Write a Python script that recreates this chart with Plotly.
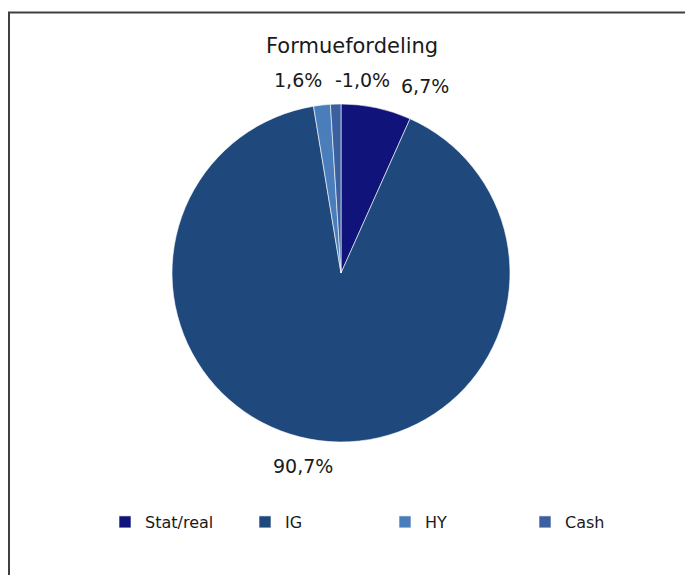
import plotly.graph_objects as go

# Formuefordeling - andeler i prosent
kategorier = ["Stat/real", "IG", "HY", "Cash"]
andeler = [6.7, 90.7, 1.6, -1.0]
farger = ["#10137a", "#1f497d", "#4a7ebb", "#3c5fa0"]

FONT = "DejaVu Sans"
# siden har 8 px marg i nettleseren, så figuren gjøres tilsvarende mindre
OFF = 8
W, H = 693 - OFF, 575 - OFF


def px(x):
    return (x - OFF) / W


def py(y):
    return 1 - (y - OFF) / H


def pct_tekst(v):
    return f"{v:.1f}".replace(".", ",") + "%"


fig = go.Figure()

# Plotly tegner ikke negative sektorer, så størrelsen tas som absoluttverdi
fig.add_trace(go.Pie(
    labels=kategorier,
    values=[abs(v) for v in andeler],
    sort=False,
    direction="clockwise",
    rotation=0,
    marker=dict(colors=farger, line=dict(color="white", width=0.6)),
    textinfo="none",
    hovertext=[pct_tekst(v) for v in andeler],
    hoverinfo="label+text",
    domain=dict(x=[px(341 - 169), px(341 + 169)], y=[py(442), py(104)]),
))

# Dataetiketter plassert som i Excel-utgaven
etikett_pos = [(425, 86), (303, 466), (298, 80), (362, 80)]
for v, (ex, ey) in zip(andeler, etikett_pos):
    fig.add_annotation(
        x=px(ex), y=py(ey), xref="paper", yref="paper",
        xanchor="center", yanchor="middle",
        text=pct_tekst(v), showarrow=False,
        font=dict(family=FONT, size=19, color="#1a1a1a"),
    )

fig.add_annotation(
    x=px(352), y=py(46), xref="paper", yref="paper",
    xanchor="center", yanchor="middle",
    text="Formuefordeling", showarrow=False,
    font=dict(family=FONT, size=21, color="#1a1a1a"),
)

# Ramme rundt diagrammet (åpen mot høyre og nederst)
fig.add_shape(
    type="rect", xref="paper", yref="paper",
    x0=1 / W, x1=1.02, y0=-0.02, y1=py(12.5),
    line=dict(color="#404040", width=2),
)

fig.update_layout(
    width=W, height=H,
    margin=dict(l=0, r=0, t=0, b=0),
    paper_bgcolor="white",
    font=dict(family=FONT, size=16, color="#1a1a1a"),
    showlegend=True,
    legend=dict(
        orientation="h",
        x=px(105), y=py(522), xanchor="left", yanchor="middle",
        entrywidth=95, entrywidthmode="pixels",
        font=dict(family=FONT, size=16, color="#1a1a1a"),
    ),
)

fig.write_html("out.html")
